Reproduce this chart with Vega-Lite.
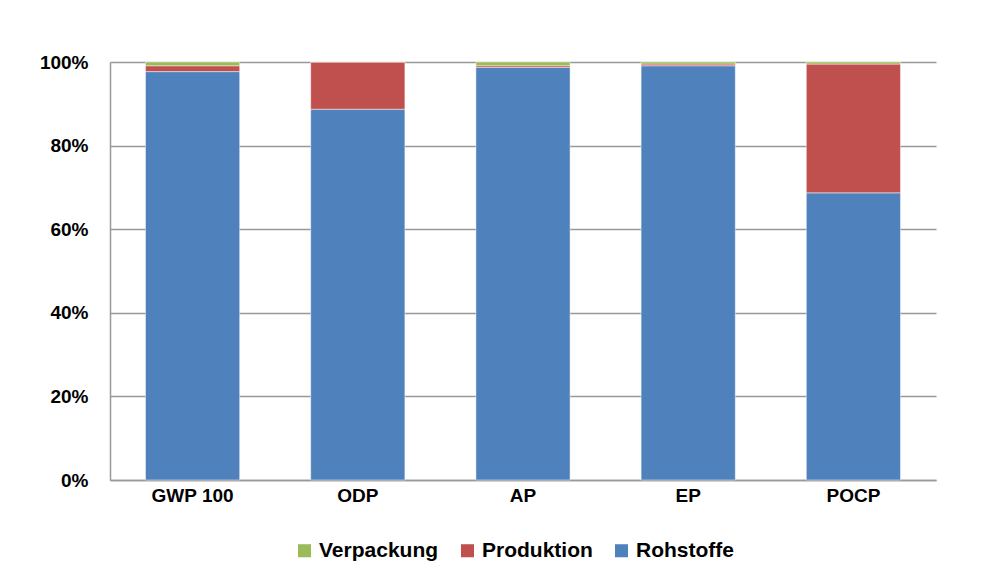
{
  "$schema": "https://vega.github.io/schema/vega-lite/v6.json",
  "width": 826,
  "height": 418,
  "autosize": {"type": "none"},
  "padding": {"left": 110, "top": 62, "right": 57, "bottom": 101},
  "background": "white",
  "config": {
    "view": {"stroke": null},
    "font": "Liberation Sans"
  },
  "data": {
    "values": [
      {"cat": "GWP 100", "comp": "Rohstoffe", "rank": 1, "v": 0.977},
      {"cat": "GWP 100", "comp": "Produktion", "rank": 2, "v": 0.014},
      {"cat": "GWP 100", "comp": "Verpackung", "rank": 3, "v": 0.009},
      {"cat": "ODP", "comp": "Rohstoffe", "rank": 1, "v": 0.887},
      {"cat": "ODP", "comp": "Produktion", "rank": 2, "v": 0.113},
      {"cat": "ODP", "comp": "Verpackung", "rank": 3, "v": 0.0},
      {"cat": "AP", "comp": "Rohstoffe", "rank": 1, "v": 0.987},
      {"cat": "AP", "comp": "Produktion", "rank": 2, "v": 0.004},
      {"cat": "AP", "comp": "Verpackung", "rank": 3, "v": 0.009},
      {"cat": "EP", "comp": "Rohstoffe", "rank": 1, "v": 0.991},
      {"cat": "EP", "comp": "Produktion", "rank": 2, "v": 0.004},
      {"cat": "EP", "comp": "Verpackung", "rank": 3, "v": 0.005},
      {"cat": "POCP", "comp": "Rohstoffe", "rank": 1, "v": 0.687},
      {"cat": "POCP", "comp": "Produktion", "rank": 2, "v": 0.308},
      {"cat": "POCP", "comp": "Verpackung", "rank": 3, "v": 0.005}
    ]
  },
  "mark": {"type": "bar", "stroke": "white", "strokeOpacity": 0.45, "strokeWidth": 1},
  "encoding": {
    "x": {
      "field": "cat",
      "type": "nominal",
      "sort": ["GWP 100", "ODP", "AP", "EP", "POCP"],
      "scale": {"paddingInner": 0.43, "paddingOuter": 0.215},
      "axis": {
        "title": null,
        "labelAngle": 0,
        "labelFontSize": 19,
        "labelFontWeight": "bold",
        "labelColor": "black",
        "labelPadding": 6,
        "ticks": false,
        "domainColor": "#999999",
        "domainWidth": 1.5
      }
    },
    "y": {
      "field": "v",
      "type": "quantitative",
      "stack": "zero",
      "scale": {"domain": [0, 1], "nice": false},
      "axis": {
        "title": null,
        "format": ".0%",
        "values": [0, 0.2, 0.4, 0.6, 0.8, 1],
        "labelFontSize": 19,
        "labelFontWeight": "bold",
        "labelColor": "black",
        "labelPadding": 22,
        "ticks": false,
        "grid": true,
        "gridColor": "#999999",
        "gridWidth": 1.5,
        "domainColor": "#999999",
        "domainWidth": 1.5
      }
    },
    "color": {
      "field": "comp",
      "type": "nominal",
      "scale": {
        "domain": ["Verpackung", "Produktion", "Rohstoffe"],
        "range": ["#9BBB59", "#C0504D", "#4F81BD"]
      },
      "legend": {
        "title": null,
        "orient": "none",
        "direction": "horizontal",
        "legendX": 184,
        "legendY": 478,
        "symbolType": "square",
        "symbolSize": 170,
        "symbolStrokeWidth": 0,
        "labelFontSize": 21,
        "labelFontWeight": "bold",
        "labelColor": "black",
        "labelOffset": 4,
        "columnPadding": 18
      }
    },
    "order": {"field": "rank", "type": "quantitative"}
  }
}
